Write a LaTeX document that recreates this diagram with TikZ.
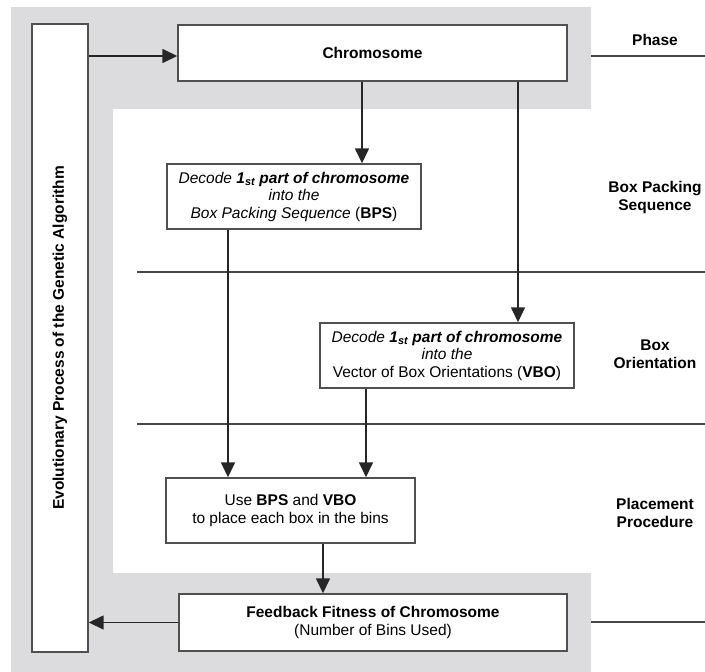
\documentclass[tikz,border=0pt]{standalone}
\usepackage{fontspec}
\setmainfont{Liberation Sans}
\usetikzlibrary{arrows.meta}
\definecolor{phasegray}{RGB}{220,220,222}
\definecolor{boxline}{RGB}{80,80,80}
\definecolor{ruleline}{RGB}{70,70,70}

\newcommand{\firstpart}{\textbf{1\textsubscript{st} part of chromosome}}

\begin{document}
\begin{tikzpicture}[x=1pt, y=-1pt,
  every text node part/.style={align=center},
  font=\fontsize{15.5}{17.5}\selectfont,
  box/.style={draw=boxline, line width=1.4pt, fill=white, inner sep=0pt},
  phasetext/.style={font=\fontsize{15.5}{18}\selectfont\bfseries},
  arr/.style={-{Triangle[length=15pt,width=14pt]}, line width=1.5pt, draw=black!85, fill=black!85}]
  \useasboundingbox (0,0) rectangle (705,672);
  \fill[phasegray] (11,7) -- (591,7) -- (591,109) -- (113,109) -- (113,573)
    -- (591,573) -- (591,672) -- (11,672) -- cycle;
  \draw[ruleline, line width=1.2pt] (591,56) -- (705,56);
  \draw[ruleline, line width=1.2pt] (137,272) -- (705,272);
  \draw[ruleline, line width=1.2pt] (137,424) -- (705,424);
  \draw[ruleline, line width=1.2pt] (591,622) -- (705,622);

  \node (evo) [box, minimum width=56pt, minimum height=628pt] at (60,338)
    {\rotatebox{90}{\textbf{Evolutionary Process of the Genetic Algorithm}}};
  \node (chrom) [box, minimum width=389pt, minimum height=56pt] at (372.5,53)
    {\textbf{Chromosome}};
  \node (bps) [box, minimum width=254pt, minimum height=65pt] at (294,196.5)
    {\textit{Decode \firstpart} \\ \textit{into the} \\
     \textit{Box Packing Sequence} (\textbf{BPS})};
  \node (vbo) [box, minimum width=254pt, minimum height=65pt] at (447,355.5)
    {\textit{Decode \firstpart} \\ \textit{into the} \\
     Vector of Box Orientations (\textbf{VBO})};
  \node (place) [box, minimum width=249pt, minimum height=65pt] at (290.5,510.5)
    {Use \textbf{BPS} and \textbf{VBO} \\ to place each box in the bins};
  \node (feed) [box, minimum width=388pt, minimum height=57pt] at (373,622.5)
    {\textbf{Feedback Fitness of Chromosome} \\ (Number of Bins Used)};

  \node (phase) [phasetext] at (655,40) {Phase};
  \node (pbps) [phasetext] at (655,197) {Box Packing \\ Sequence};
  \node (pvbo) [phasetext] at (655,354) {Box \\ Orientation};
  \node (pplace) [phasetext] at (655,513) {Placement \\ Procedure};

  \coordinate (xa) at (362,0);
  \coordinate (xb) at (518,0);
  \coordinate (xc) at (228,0);
  \coordinate (xd) at (366,0);
  \coordinate (xe) at (323,0);
  \coordinate (into) at ([yshift=-3pt]chrom.west);
  \draw[arr] (into -| evo.east) -- (into);
  \draw[arr] (chrom.south -| xa) -- (bps.north -| xa);
  \draw[arr] (chrom.south -| xb) -- (vbo.north -| xb);
  \draw[arr] (bps.south -| xc) -- (place.north -| xc);
  \draw[arr] (vbo.south -| xd) -- (place.north -| xd);
  \draw[arr] (place.south -| xe) -- (feed.north -| xe);
  \draw[arr] (feed.west) -- (feed.west -| evo.east);
\end{tikzpicture}
\end{document}
